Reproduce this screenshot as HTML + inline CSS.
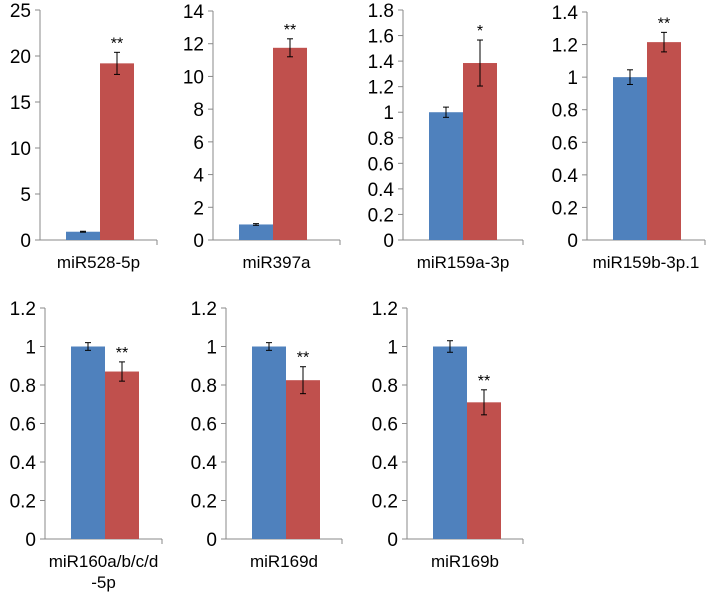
<!DOCTYPE html>
<html><head><meta charset="utf-8"><style>
body{margin:0;background:#fff;width:708px;height:596px;overflow:hidden}
svg{font-family:"Liberation Sans",Arial,sans-serif}
</style></head><body>
<svg id="c" width="708" height="596"></svg>
<script>
const labels=[["miR528-5p"],["miR397a"],["miR159a-3p"],["miR159b-3p.1"],["miR160a/b/c/d","-5p"],["miR169d"],["miR169b"]];
const controlVals=[0.9,0.95,1.0,1.0,1.0,1.0,1.0];
const controlErr=[0.05,0.05,0.04,0.045,0.02,0.02,0.03];
const treatVals=[19.2,11.75,1.385,1.215,0.87,0.825,0.71];
const treatErr=[1.2,0.55,0.18,0.06,0.05,0.07,0.065];
const stars=["**","**","*","**","**","**","**"];
const yMax=[25,14,1.8,1.4,1.2,1.2,1.2];
const yStep=[5,2,0.2,0.2,0.2,0.2,0.2];
const layout=[
 {ax:40,r:157,top:10,base:240},{ax:213,r:340,top:11,base:240},{ax:403,r:523,top:10,base:240},{ax:587,r:705,top:12,base:240},
 {ax:45,r:162,top:308,base:539},{ax:226,r:342,top:308,base:539},{ax:407,r:523,top:308,base:539}];
const svg=document.getElementById('c');const NS='http://www.w3.org/2000/svg';
function mk(t,a,p){const e=document.createElementNS(NS,t);for(const k in a)e.setAttribute(k,a[k]);(p||svg).appendChild(e);return e;}
layout.forEach((L,i)=>{
 const g=mk('g',{});
 
 
 const y=v=>L.base-(v/yMax[i])*(L.base-L.top);
 const n=Math.round(yMax[i]/yStep[i]);
 for(let k=0;k<=n;k++){const v=k*yStep[i];const yy=y(v);
  mk('line',{x1:L.ax-5,x2:L.ax,y1:yy,y2:yy,stroke:'#888'},g);
  const t=mk('text',{x:L.ax-9,y:yy+7,'text-anchor':'end','font-size':19,fill:'#000'},g);
  
  
  t.textContent=String(+v.toFixed(1));}
 mk('line',{x1:L.ax,x2:L.ax,y1:L.top,y2:L.base,stroke:'#888'},g);
 mk('line',{x1:L.ax,x2:L.r,y1:L.base,y2:L.base,stroke:'#888'},g);
 mk('line',{x1:L.r,x2:L.r,y1:L.base,y2:L.base+5,stroke:'#888'},g);
 const bx=L.ax+26,bw=34;
 [[controlVals[i],controlErr[i],'#4f81bd','bar-control'],[treatVals[i],treatErr[i],'#c0504d','bar-treatment']].forEach((d,j)=>{
  const x=bx+j*bw;
  const b=mk('rect',{x:x,y:y(d[0]),width:bw,height:L.base-y(d[0]),fill:d[2]},g);
  
  
  const cx=x+bw/2,y1=y(d[0]+d[1]),y2=y(d[0]-d[1]);
  mk('line',{x1:cx,x2:cx,y1:y1,y2:y2,stroke:'#000'},g);
  mk('line',{x1:cx-3,x2:cx+3,y1:y1,y2:y1,stroke:'#000'},g);
  mk('line',{x1:cx-3,x2:cx+3,y1:y2,y2:y2,stroke:'#000'},g);
  if(j==1){const s=mk('text',{x:cx,y:y1-4,'text-anchor':'middle','font-size':16},g);
   
   
   s.textContent=stars[i];}
 });
 labels[i].forEach((ln,k)=>{const t=mk('text',{x:(L.ax+L.r)/2,y:L.base+28+k*21,'text-anchor':'middle','font-size':17},g);
  
  
  t.textContent=ln;});
});
</script>
</body></html>
